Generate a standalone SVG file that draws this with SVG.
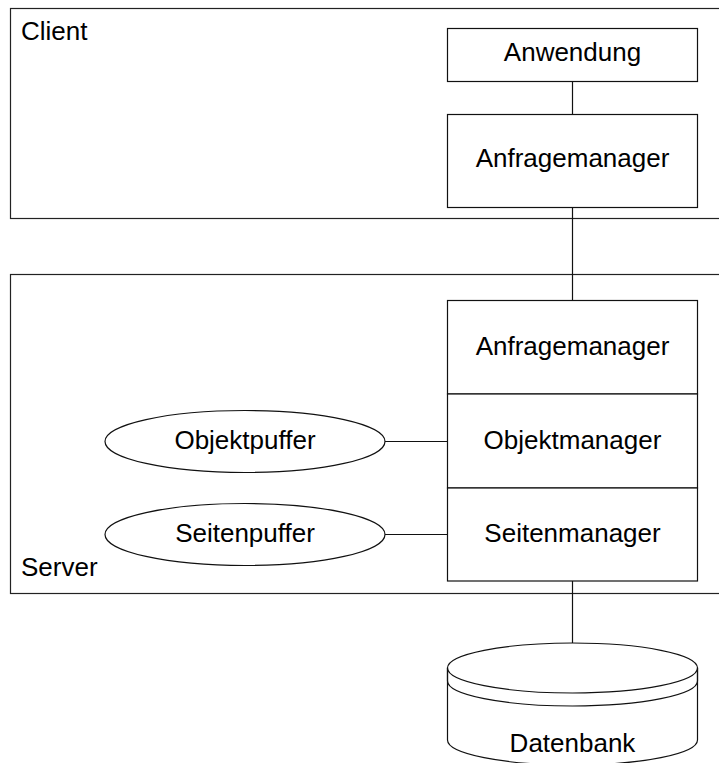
<svg xmlns="http://www.w3.org/2000/svg" width="719" height="763" viewBox="0 0 719 763">
  <style>
    .frame { fill: none; stroke: #222; stroke-width: 1.2; }
    .box { fill: #fff; stroke: #111; stroke-width: 1.2; }
    .line { fill: none; stroke: #111; stroke-width: 1.2; }
    .label { font-family: "Liberation Sans", Arial, sans-serif; font-size: 26px; fill: #000; }
    .c { text-anchor: middle; }
  </style>
  <rect width="719" height="763" fill="#fff"/>

  <!-- tier frames -->
  <g id="client">
    <rect class="frame" x="10.5" y="8.5" width="730" height="210"/>
    <text class="label" x="21" y="40">Client</text>
  </g>
  <g id="server">
    <rect class="frame" x="10.5" y="274.5" width="730" height="319"/>
    <text class="label" x="21" y="576">Server</text>
  </g>

  <!-- connectors -->
  <g id="connectors">
    <line class="line" x1="572.5" y1="81" x2="572.5" y2="114"/>
    <line class="line" x1="572.5" y1="207" x2="572.5" y2="300"/>
    <line class="line" x1="572.5" y1="581" x2="572.5" y2="643"/>
    <line class="line" x1="385" y1="441.5" x2="447" y2="441.5"/>
    <line class="line" x1="385" y1="534.5" x2="447" y2="534.5"/>
  </g>

  <g id="anwendung">
    <rect class="box" x="447.5" y="28.5" width="250" height="53"/>
    <text class="label c" x="572.5" y="61">Anwendung</text>
  </g>
  <g id="client-anfragemanager">
    <rect class="box" x="447.5" y="114.5" width="250" height="93"/>
    <text class="label c" x="572.5" y="167">Anfragemanager</text>
  </g>

  <g id="server-anfragemanager">
    <rect class="box" x="447.5" y="300.5" width="250" height="93.5"/>
    <text class="label c" x="572.5" y="355">Anfragemanager</text>
  </g>
  <g id="objektmanager">
    <rect class="box" x="447.5" y="394" width="250" height="94"/>
    <text class="label c" x="572.5" y="449">Objektmanager</text>
  </g>
  <g id="seitenmanager">
    <rect class="box" x="447.5" y="488" width="250" height="93"/>
    <text class="label c" x="572.5" y="542">Seitenmanager</text>
  </g>

  <g id="objektpuffer">
    <ellipse class="box" cx="245" cy="441.5" rx="140" ry="31"/>
    <text class="label c" x="245" y="449">Objektpuffer</text>
  </g>
  <g id="seitenpuffer">
    <ellipse class="box" cx="245" cy="534.5" rx="140" ry="31"/>
    <text class="label c" x="245" y="542">Seitenpuffer</text>
  </g>

  <g id="datenbank">
    <path class="box" d="M447.5 668 L447.5 740 A125 25 0 0 0 697.5 740 L697.5 668 Z"/>
    <ellipse class="box" cx="572.5" cy="668" rx="125" ry="25"/>
    <path class="line" d="M447.5 668 L447.5 681 A125 25 0 0 0 697.5 681 L697.5 668"/>
    <text class="label c" x="572.5" y="752">Datenbank</text>
  </g>
</svg>
